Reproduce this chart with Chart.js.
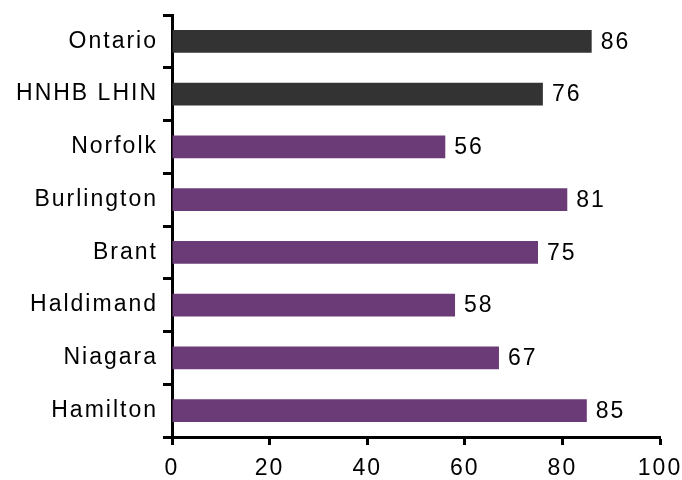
<!DOCTYPE html>
<html>
<head>
<meta charset="utf-8">
<script src="https://cdn.jsdelivr.net/npm/chart.js@4/dist/chart.umd.min.js"></script>
<style>
  html, body { margin: 0; padding: 0; background: #fff; }
  #wrap { width: 682px; height: 480px; }
</style>
</head>
<body>
<div id="wrap"><canvas id="chart" width="682" height="480"></canvas></div>
<script>
var regions = ['Ontario', 'HNHB LHIN', 'Norfolk', 'Burlington', 'Brant', 'Haldimand', 'Niagara', 'Hamilton'];
var values = [86, 76, 56, 81, 75, 58, 67, 85];
var xTicks = [0, 20, 40, 60, 80, 100];

var DARK = '#333333';
var PURPLE = '#6a3b77';
var FONT = { family: "'Liberation Sans', Arial, sans-serif", size: 23 };

// first two rows are the province and the LHIN, the rest are local areas
var colors = regions.map(function (r, i) {
  return i < 2 ? DARK : PURPLE;
});

var spacing = {
  id: 'spacing',
  beforeDraw: function (chart) {
    chart.ctx.letterSpacing = '2px';
  }
};

var valueLabels = {
  id: 'valueLabels',
  afterDatasetsDraw: function (chart) {
    var ctx = chart.ctx;
    var meta = chart.getDatasetMeta(0);
    ctx.save();
    ctx.font = FONT.size + 'px ' + FONT.family;
    ctx.fillStyle = '#000';
    ctx.textAlign = 'left';
    ctx.textBaseline = 'middle';
    meta.data.forEach(function (bar, i) {
      ctx.fillText(String(values[i]), bar.x + 9, bar.y + 1);
    });
    ctx.restore();
  }
};

// pin the plot box: left 172, right 660, top 15, bottom 437
var pinArea = {
  id: 'pinArea',
  afterLayout: function (chart) {
    var a = chart.chartArea;
    a.left = 172; a.right = 660; a.top = 15; a.bottom = 437;
    a.width = a.right - a.left; a.height = a.bottom - a.top;
    var x = chart.scales.x, y = chart.scales.y;
    x.left = a.left; x.right = a.right; x.width = a.width;
    x.top = a.bottom; x.bottom = 480; x.height = 43;
    y.top = a.top; y.bottom = a.bottom; y.height = a.height;
    y.left = 0; y.right = a.left; y.width = a.left;
    x.configure(); y.configure();
  }
};

new Chart(document.getElementById('chart'), {
  type: 'bar',
  data: {
    labels: regions,
    datasets: [{
      data: values,
      backgroundColor: colors,
      borderWidth: 0,
      barPercentage: 0.43,
      categoryPercentage: 1
    }]
  },
  options: {
    indexAxis: 'y',
    responsive: false,
    animation: false,
    layout: { padding: { top: 15, right: 22, left: 0, bottom: 0 } },
    plugins: {
      legend: { display: false },
      tooltip: { enabled: false }
    },
    scales: {
      x: {
        min: 0,
        max: 100,
        afterBuildTicks: function (scale) {
          scale.ticks = xTicks.map(function (v) { return { value: v }; });
        },
        afterFit: function (scale) { scale.height = 43; },
        border: { display: true, color: '#000', width: 3 },
        grid: {
          drawOnChartArea: false,
          drawTicks: true,
          tickLength: 8,
          tickColor: '#000',
          tickWidth: 3
        },
        ticks: { color: '#000', font: FONT, padding: 10, maxRotation: 0 }
      },
      y: {
        afterFit: function (scale) { scale.width = 172; },
        border: { display: true, color: '#000', width: 3 },
        grid: {
          offset: true,
          drawOnChartArea: false,
          drawTicks: true,
          tickLength: 9,
          tickColor: '#000',
          tickWidth: 3
        },
        ticks: { color: '#000', font: FONT, padding: 5 }
      }
    }
  },
  plugins: [spacing, pinArea, valueLabels]
});
</script>
</body>
</html>
